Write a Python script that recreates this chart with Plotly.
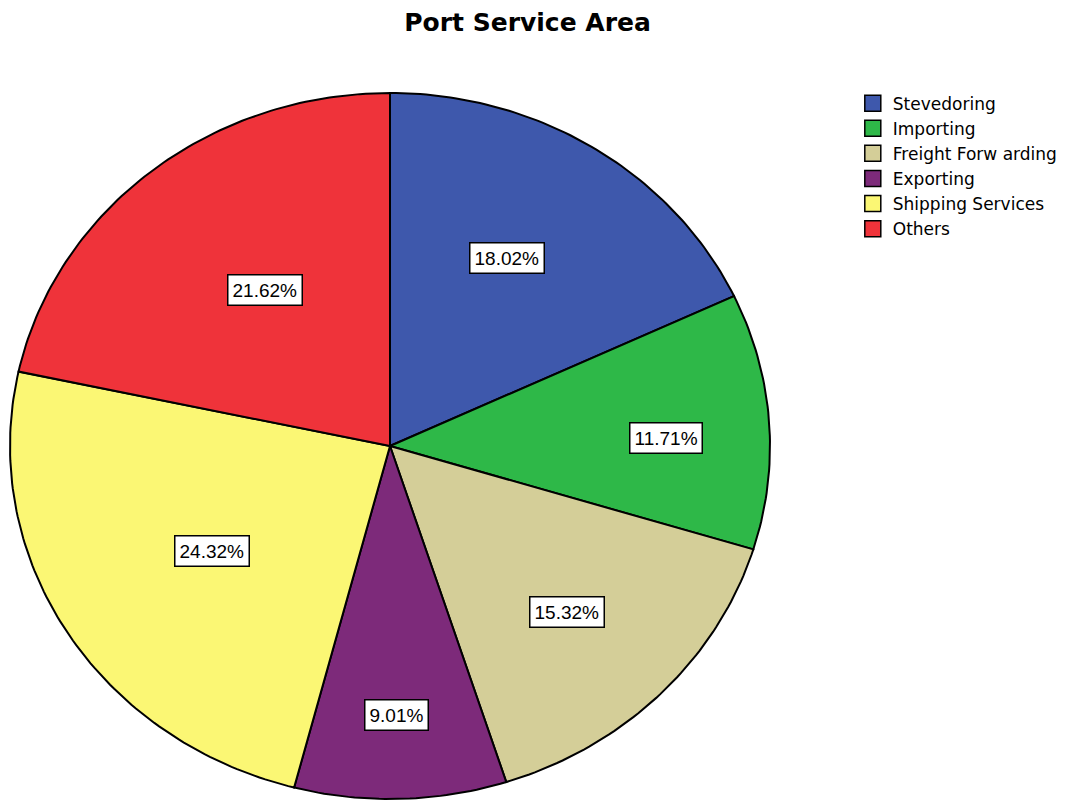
import numpy as np
import plotly.graph_objects as go

# Port service area shares (percent of respondents)
categories = ["Stevedoring", "Importing", "Freight Forw arding", "Exporting",
              "Shipping Services", "Others"]
shares = [18.02, 11.71, 15.32, 9.01, 24.32, 21.62]
colors = ["#3E58AC", "#2EB848", "#D4CE98", "#7D2A7A", "#FBF774", "#EF333A"]

# placement of each percentage box: fraction of the radius and angular nudge (deg)
label_radius = [0.616, 0.726, 0.661, 0.763, 0.556, 0.550]
label_nudge = [-2.4, 2.3, 0.6, 0.3, -0.9, 2.3]

# pie geometry in page pixels (y grows downward)
CX, CY = 390, 446
RX, RY = 380, 353

fig = go.Figure()

total = sum(shares)
start = 0.0
for name, val, col, lr, nd in zip(categories, shares, colors, label_radius, label_nudge):
    frac0 = start / total
    frac1 = (start + val) / total
    t = np.linspace(frac0, frac1, max(int(val * 4), 8)) * 2 * np.pi
    xs = np.concatenate([[CX], CX + RX * np.sin(t), [CX]])
    ys = np.concatenate([[CY], CY - RY * np.cos(t), [CY]])
    fig.add_trace(go.Scatter(
        x=xs, y=ys, mode="lines", fill="toself", fillcolor=col,
        line=dict(color="black", width=2), showlegend=False,
        hoverinfo="text", text=f"{name}: {val:.2f}%",
    ))
    mid = (frac0 + frac1) / 2 * 2 * np.pi + np.radians(nd)
    fig.add_annotation(
        x=CX + lr * RX * np.sin(mid), y=CY - lr * RY * np.cos(mid),
        text=f"{val:.2f}%", showarrow=False,
        font=dict(family="Liberation Sans, Arial", size=19, color="black"),
        bgcolor="white", bordercolor="black", borderwidth=1.5, borderpad=4,
    )
    start += val

# legend entries with square swatches
for name, col in zip(categories, colors):
    fig.add_trace(go.Scatter(
        x=[None], y=[None], mode="markers", name=name,
        marker=dict(symbol="square", size=17, color=col,
                    line=dict(color="black", width=1.5)),
    ))

fig.update_layout(
    width=1070, height=800,
    margin=dict(l=0, r=0, t=0, b=0),
    paper_bgcolor="white", plot_bgcolor="white",
    title=dict(text="<b>Port Service Area</b>", x=0.493, xanchor="center",
               y=0.972, yanchor="middle",
               font=dict(family="DejaVu Sans", size=25, color="black")),
    xaxis=dict(range=[0, 1070], visible=False, fixedrange=True),
    yaxis=dict(range=[800, 0], visible=False, fixedrange=True),
    legend=dict(x=0.797, y=0.893, xanchor="left", yanchor="top",
                font=dict(family="DejaVu Sans", size=17, color="black"),
                tracegroupgap=0, itemwidth=30, bgcolor="rgba(0,0,0,0)"),
    showlegend=True,
)

fig.write_html("out.html")
